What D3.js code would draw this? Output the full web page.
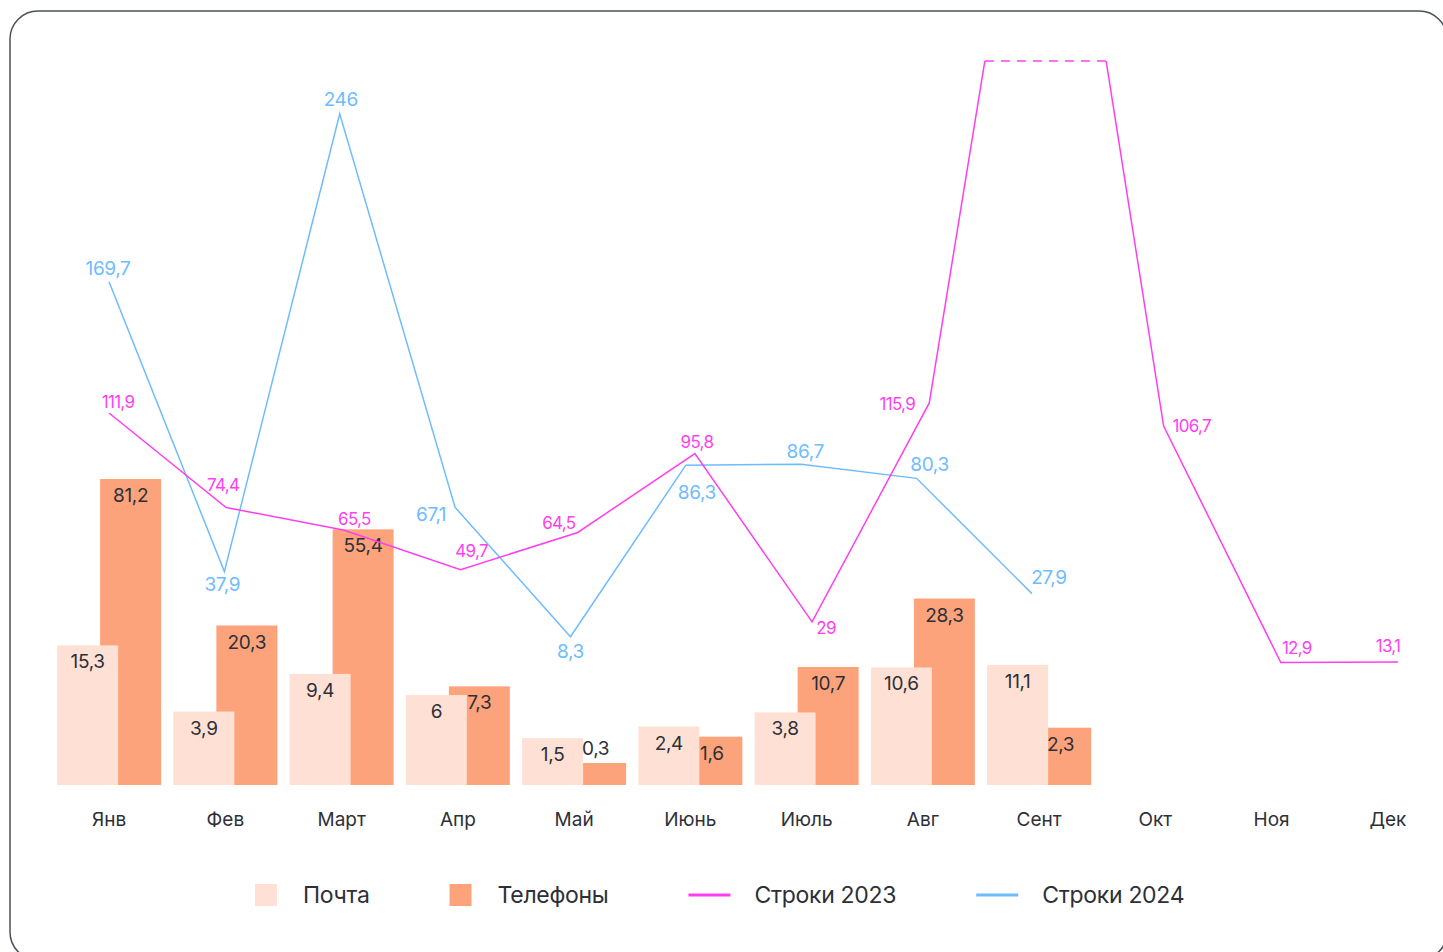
<!DOCTYPE html>
<html>
<head>
<meta charset="utf-8">
<script src="https://cdn.jsdelivr.net/npm/d3@7"></script>
<style>
  body { margin: 0; background: #fff; }
  svg { display: block; font-family: Inter, "Noto Sans", sans-serif; }
</style>
</head>
<body>
<script>
// months
const months = ["Янв", "Фев", "Март", "Апр", "Май", "Июнь", "Июль", "Авг", "Сент", "Окт", "Ноя", "Дек"];

// bars
const mail   = [15.3, 3.9, 9.4, 6, 1.5, 2.4, 3.8, 10.6, 11.1, null, null, null];
const phones = [81.2, 20.3, 55.4, 7.3, 0.3, 1.6, 10.7, 28.3, 2.3, null, null, null];

// lines (Sep 2023 goes off the top, value estimated, no label)
const rows2023 = [111.9, 74.4, 65.5, 49.7, 64.5, 95.8, 29, 115.9, 402, 106.7, 12.9, 13.1];
const rows2024 = [169.7, 37.9, 246, 67.1, 8.3, 86.3, 86.7, 80.3, 27.9, null, null, null];
const labeled2023 = [true, true, true, true, true, true, true, true, false, true, true, true];

const fmt = v => String(v).replace(".", ",");

const width = 1443, height = 952;
const baseline = 785;
const clipTop = 61;

const colMail = "#fee0d5", colPhone = "#fda37c";
const colPink = "#ff3ef0", colBlue = "#6ebcff";
const textCol = "#2d3038";

// label offsets relative to each point
const off2023 = [[9,-11],[-3,-22],[11,-11],[11,-19],[-19,-9],[2,-12],[14,6],[-32,1],[0,0],[28,0],[16,-14],[-10,-16]];
const off2024 = [[-1,-13],[-2,13],[1,-14],[-24,7],[0,15],[11,27],[4,-13],[13,-14],[17,-16]];

const svg = d3.select("body").append("svg")
    .attr("width", width)
    .attr("height", height)
    .attr("viewBox", [0, 0, width, height]);

// card border
svg.append("rect")
    .attr("x", 10).attr("y", 11)
    .attr("width", 1437).attr("height", 949)
    .attr("rx", 28)
    .attr("fill", "#fff")
    .attr("stroke", "#4b5059")
    .attr("stroke-width", 1.5);

// scales
const x = d3.scaleBand()
    .domain(months)
    .range([51, 51 + 12 * 116.25]);

const xPink = d3.scalePoint().domain(months).range([109, 1398]);
const xBlue = d3.scalePoint().domain(months).range([109, 1378]);

const yBar = d3.scalePow().exponent(0.47)
    .domain([0, 81.2])
    .range([baseline, 479]);

const yPink = d3.scaleLinear().domain([0, 100]).range([695, 443]);
const yBlue = d3.scaleLinear().domain([0, 100]).range([655, 435]);

const barW = 61, overlap = 18;
const center = m => x(m) + x.bandwidth() / 2;

const barData = months.map((m, i) => ({ m, mail: mail[i], phone: phones[i] }))
    .filter(d => d.mail != null);

// phone bars (behind)
svg.append("g")
    .attr("fill", colPhone)
  .selectAll()
  .data(barData)
  .join("rect")
    .attr("x", d => center(d.m) - overlap / 2)
    .attr("y", d => yBar(d.phone))
    .attr("width", barW)
    .attr("height", d => baseline - yBar(d.phone));

// mail bars (in front)
svg.append("g")
    .attr("fill", colMail)
  .selectAll()
  .data(barData)
  .join("rect")
    .attr("x", d => center(d.m) + overlap / 2 - barW)
    .attr("y", d => yBar(d.mail))
    .attr("width", barW)
    .attr("height", d => baseline - yBar(d.mail));

// bar labels
const barLabel = (key, cx) => svg.append("g")
    .attr("fill", textCol)
    .attr("font-size", 19)
    .attr("text-anchor", "middle")
  .selectAll()
  .data(barData)
  .join("text")
    .attr("x", cx)
    .attr("y", d => {
      const top = yBar(d[key]);
      return baseline - top < 26 ? top - 8 : top + 23;
    })
    .attr("letter-spacing", -0.3)
    .text(d => fmt(d[key]));

barLabel("mail", d => center(d.m) + overlap / 2 - barW / 2);
barLabel("phone", d => center(d.m) - overlap / 2 + barW / 2);

// x axis labels
svg.append("g")
    .attr("transform", `translate(0,${baseline + 34})`)
    .call(d3.axisBottom(x).tickSize(0).tickPadding(0))
    .call(g => g.select(".domain").remove())
    .call(g => g.selectAll("text")
        .attr("fill", textCol)
        .attr("font-size", 19)
        .attr("font-family", "Inter, 'Noto Sans', sans-serif")
        .attr("dy", "0.35em"));

// 2024 line
const pts2024 = months.map((m, i) => ({ m, v: rows2024[i], i })).filter(d => d.v != null);
svg.append("path")
    .datum(pts2024)
    .attr("fill", "none")
    .attr("stroke", colBlue)
    .attr("stroke-width", 1.5)
    .attr("d", d3.line().x(d => xBlue(d.m)).y(d => yBlue(d.v)));

// 2023 line, clipped at the top with a dashed cap
svg.append("clipPath").attr("id", "clip")
  .append("rect")
    .attr("x", 0).attr("y", clipTop)
    .attr("width", width).attr("height", height);

const pts2023 = months.map((m, i) => ({ m, v: rows2023[i], i }));
svg.append("path")
    .datum(pts2023)
    .attr("clip-path", "url(#clip)")
    .attr("fill", "none")
    .attr("stroke", colPink)
    .attr("stroke-width", 1.5)
    .attr("d", d3.line().x(d => xPink(d.m)).y(d => yPink(d.v)));

// where the line crosses the clip edge
const crossings = [];
for (let i = 1; i < pts2023.length; i++) {
  const a = pts2023[i - 1], b = pts2023[i];
  const ya = yPink(a.v), yb = yPink(b.v);
  if ((ya - clipTop) * (yb - clipTop) < 0) {
    const t = (clipTop - ya) / (yb - ya);
    crossings.push(xPink(a.m) + t * (xPink(b.m) - xPink(a.m)));
  }
}
for (let i = 0; i + 1 < crossings.length; i += 2) {
  svg.append("line")
      .attr("x1", crossings[i]).attr("x2", crossings[i + 1])
      .attr("y1", clipTop).attr("y2", clipTop)
      .attr("stroke", colPink)
      .attr("stroke-width", 1.5)
      .attr("stroke-dasharray", "9,7");
}

// line labels
svg.append("g")
    .attr("fill", colBlue)
    .attr("font-size", 19)
    .attr("text-anchor", "middle")
    .attr("letter-spacing", -0.4)
  .selectAll()
  .data(pts2024)
  .join("text")
    .attr("x", d => xBlue(d.m) + off2024[d.i][0])
    .attr("y", d => yBlue(d.v) + off2024[d.i][1])
    .attr("dy", "0.35em")
    .text(d => fmt(d.v));

svg.append("g")
    .attr("fill", colPink)
    .attr("font-size", 17)
    .attr("text-anchor", "middle")
    .attr("letter-spacing", -0.7)
  .selectAll()
  .data(pts2023.filter(d => labeled2023[d.i]))
  .join("text")
    .attr("x", d => xPink(d.m) + off2023[d.i][0])
    .attr("y", d => yPink(d.v) + off2023[d.i][1])
    .attr("dy", "0.35em")
    .text(d => fmt(d.v));

// legend
const legendItems = [
  { name: "Почта", type: "rect", color: colMail },
  { name: "Телефоны", type: "rect", color: colPhone },
  { name: "Строки 2023", type: "line", color: colPink },
  { name: "Строки 2024", type: "line", color: colBlue }
];
const legendY = 895;
let lx = 255;
legendItems.forEach(item => {
  const g = svg.append("g");
  let sw;
  if (item.type === "rect") {
    sw = 22;
    g.append("rect")
        .attr("x", lx).attr("y", legendY - 11)
        .attr("width", 22).attr("height", 22)
        .attr("fill", item.color);
  } else {
    sw = 42;
    g.append("line")
        .attr("x1", lx).attr("x2", lx + 42)
        .attr("y1", legendY).attr("y2", legendY)
        .attr("stroke", item.color)
        .attr("stroke-width", 3);
  }
  const t = g.append("text")
      .attr("x", lx + sw + (item.type === "rect" ? 26 : 24))
      .attr("y", legendY)
      .attr("dy", "0.35em")
      .attr("fill", textCol)
      .attr("font-size", 23)
      .attr("letter-spacing", -0.3)
      .text(item.name);
  lx = +t.attr("x") + t.node().getComputedTextLength() + 80;
});
</script>
</body>
</html>
